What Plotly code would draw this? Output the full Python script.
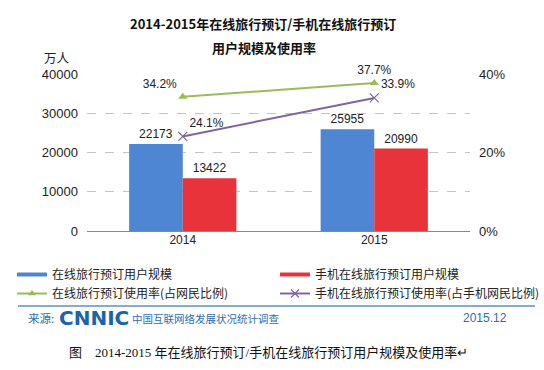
import plotly.graph_objects as go

years = ["2014", "2015"]
online_users = [22173, 25955]
mobile_users = [13422, 20990]
online_rate = [0.342, 0.377]
mobile_rate = [0.241, 0.339]

left_ticks = [0, 10000, 20000, 30000, 40000]
right_ticks = [0, 0.2, 0.4]
right_tick_labels = ["0%", "20%", "40%"]

BLUE = "#4F86D3"
RED = "#E8333A"
GREEN = "#9BBB59"
PURPLE = "#8064A2"
CJK = "Noto Sans CJK SC, Liberation Sans, sans-serif"
NUM = "Liberation Sans, Arial, sans-serif"

fig = go.Figure()

fig.add_trace(go.Bar(
    x=years, y=online_users, name="在线旅行预订用户规模",
    marker=dict(color=BLUE, line=dict(width=0)),
    text=[str(v) for v in online_users], textposition="outside",
    textfont=dict(family=NUM, size=12, color="#222"),
    cliponaxis=False, showlegend=False,
))
fig.add_trace(go.Bar(
    x=years, y=mobile_users, name="手机在线旅行预订用户规模",
    marker=dict(color=RED, line=dict(width=0)),
    text=[str(v) for v in mobile_users], textposition="outside",
    textfont=dict(family=NUM, size=12, color="#222"),
    cliponaxis=False, showlegend=False,
))
fig.add_trace(go.Scatter(
    x=years, y=online_rate, yaxis="y2", mode="lines+markers+text",
    name="在线旅行预订使用率（占网民比例）",
    line=dict(color=GREEN, width=2),
    marker=dict(symbol="triangle-up", size=8, color=GREEN),
    text=[f"{v*100:.1f}%" for v in online_rate],
    textposition=["top left", "top center"],
    textfont=dict(family=NUM, size=12, color="#222"),
    cliponaxis=False, showlegend=False,
))
fig.add_trace(go.Scatter(
    x=years, y=mobile_rate, yaxis="y2", mode="lines+markers+text",
    name="手机在线旅行预订使用率（占手机网民比例）",
    line=dict(color=PURPLE, width=2),
    marker=dict(symbol="x-thin", size=9, color=PURPLE, line=dict(width=1.2, color=PURPLE)),
    text=[f"{v*100:.1f}%" for v in mobile_rate],
    textposition=["top right", "top right"],
    textfont=dict(family=NUM, size=12, color="#222"),
    cliponaxis=False, showlegend=False,
))

# legend entries (line-style keys as in the reference), two columns
legend_names = ["在线旅行预订用户规模", "手机在线旅行预订用户规模",
                "在线旅行预订使用率(占网民比例)", "手机在线旅行预订使用率(占手机网民比例)"]
fig.add_trace(go.Scatter(x=[None], y=[None], mode="lines", name=legend_names[0],
                         legend="legend", line=dict(color=BLUE, width=4)))
fig.add_trace(go.Scatter(x=[None], y=[None], mode="lines+markers", name=legend_names[2],
                         legend="legend", line=dict(color=GREEN, width=2),
                         marker=dict(symbol="triangle-up", size=7, color=GREEN)))
fig.add_trace(go.Scatter(x=[None], y=[None], mode="lines", name=legend_names[1],
                         legend="legend2", line=dict(color=RED, width=4)))
fig.add_trace(go.Scatter(x=[None], y=[None], mode="lines+markers", name=legend_names[3],
                         legend="legend2", line=dict(color=PURPLE, width=2),
                         marker=dict(symbol="x-thin", size=8, line=dict(width=1.2, color=PURPLE))))

pw, ph = 544 - 87 - 74, 370 - 74 - 139

legend_common = dict(orientation="v", xanchor="left", yanchor="top", tracegroupgap=0,
                     font=dict(family=CJK, size=12, color="#222"),
                     itemwidth=30, bgcolor="rgba(0,0,0,0)")

fig.update_layout(
    width=544, height=370,
    margin=dict(l=87, r=74, t=74, b=139, autoexpand=False),
    paper_bgcolor="white", plot_bgcolor="white",
    barmode="group", bargap=0.44, bargroupgap=0,
    font=dict(family=CJK, size=12, color="#222"),
    xaxis=dict(type="category", showgrid=False, ticks="", automargin=False,
               tickfont=dict(family=NUM, size=12, color="#222"),
               showline=False, zeroline=False),
    yaxis=dict(range=[0, 40000], tickvals=left_ticks, tickformat="d", ticks="",
               automargin=False,
               showgrid=True, gridcolor="#C4C4C4", griddash="dash", gridwidth=1,
               zeroline=True, zerolinecolor="#888", zerolinewidth=1,
               tickfont=dict(family=NUM, size=13, color="#222"),
               ticklabelstandoff=8, showline=False),
    yaxis2=dict(range=[0, 0.4], overlaying="y", side="right", automargin=False,
                tickvals=right_ticks, ticktext=right_tick_labels,
                showgrid=False, zeroline=False, ticks="",
                tickfont=dict(family=NUM, size=13, color="#222"),
                ticklabelstandoff=8),
    legend=dict(x=(12 - 87) / pw, y=(231 - 260) / ph, **legend_common),
    legend2=dict(x=(275 - 87) / pw, y=(231 - 260) / ph, **legend_common),
)

annotations = [
    dict(text="<b>2014-2015年在线旅行预订/手机在线旅行预订</b>", x=263, y=23,
         font=dict(family=CJK, size=13, color="#111")),
    dict(text="<b>用户规模及使用率</b>", x=264, y=47,
         font=dict(family=CJK, size=13, color="#111")),
    dict(text="万人", x=57, y=57, font=dict(family=CJK, size=12.5, color="#222")),
    dict(text="来源:", x=41, y=318, font=dict(family=CJK, size=11.5, color="#2E6DB4")),
    dict(text="<b>CNNIC</b>", x=94, y=318,
         font=dict(family="DejaVu Sans, Liberation Sans, sans-serif", size=20, color="#1C63AE")),
    dict(text="中国互联网络发展状况统计调查", x=205, y=318,
         font=dict(family=CJK, size=10.5, color="#2E6DB4")),
    dict(text="2015.12", x=485, y=318, font=dict(family=NUM, size=12, color="#2E6DB4")),
    dict(text="图 &nbsp;&nbsp;&nbsp;2014-2015 年在线旅行预订/手机在线旅行预订用户规模及使用率↵",
         x=268, y=352, font=dict(family="Liberation Serif, Noto Sans CJK SC, serif", size=13, color="#111")),
]
for a in annotations:
    fig.add_annotation(text=a["text"], x=(a["x"] - 87) / pw, y=(370 - 139 - a["y"]) / ph,
                       xref="paper", yref="paper", showarrow=False,
                       xanchor="center", yanchor="middle", font=a["font"])

fig.add_shape(type="line", xref="paper", yref="paper",
              x0=(18 - 87) / pw, x1=(535 - 87) / pw,
              y0=(231 - 306) / ph, y1=(231 - 306) / ph,
              line=dict(color="#5B8FCB", width=1.5))

fig.write_html("out.html", config={"displayModeBar": False},
               post_script="document.body.style.margin='0';")
